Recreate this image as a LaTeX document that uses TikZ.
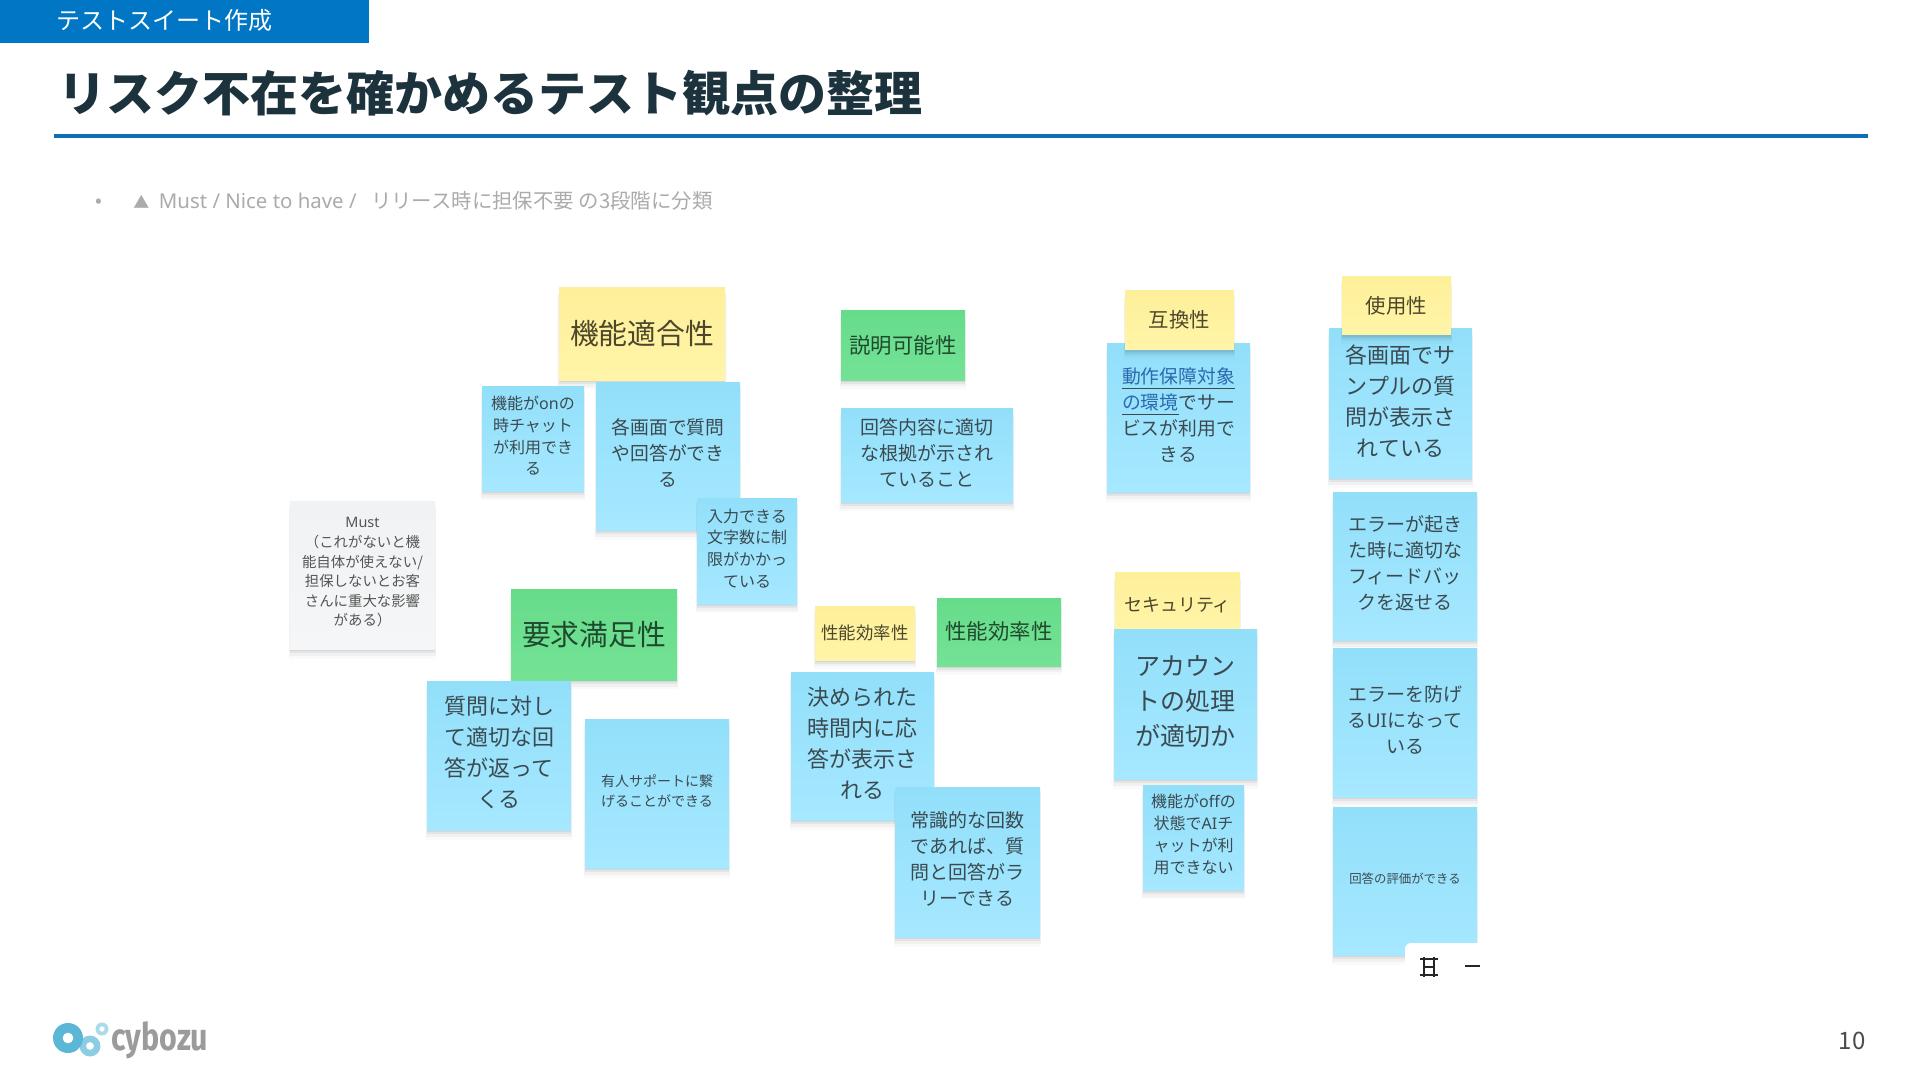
\documentclass[tikz,border=0pt]{standalone}
\usepackage{fontspec}
\setmainfont{Noto Sans CJK JP}
\newfontfamily\logofont{Fira Sans}
\newfontfamily\latf{Noto Sans}
\usetikzlibrary{shadows}
\definecolor{hdrblue}{HTML}{0176C5}
\definecolor{rulec}{HTML}{0F6FB6}
\definecolor{titlec}{HTML}{1C333D}
\definecolor{subc}{HTML}{ABABAB}
\definecolor{inkc}{HTML}{3A4A50}
\definecolor{bluetop}{HTML}{92DFFA}
\definecolor{bluebot}{HTML}{A6E8FF}
\definecolor{yeltop}{HTML}{FEF09A}
\definecolor{yelbot}{HTML}{FFF4A8}
\definecolor{yeltxt}{HTML}{4C472A}
\definecolor{grntop}{HTML}{66DC8A}
\definecolor{grnbot}{HTML}{74E296}
\definecolor{grntxt}{HTML}{1F4A2E}
\definecolor{grytop}{HTML}{F1F2F4}
\definecolor{grybot}{HTML}{F5F6F7}
\definecolor{grytxt}{HTML}{555555}
\definecolor{linkc}{HTML}{2A6AAE}
\definecolor{logoa}{HTML}{5CB6D6}
\definecolor{logob}{HTML}{8CCDE2}
\definecolor{logoc}{HTML}{A9DBEA}
\definecolor{logot}{HTML}{9B9B9B}
\tikzset{
  softshadow/.style={
    general shadow={shadow xshift=0pt,shadow yshift=-4pt,shadow scale=1.02,fill=black,fill opacity=.02},
    general shadow={shadow xshift=0pt,shadow yshift=-3pt,shadow scale=1.012,fill=black,fill opacity=.035},
    general shadow={shadow xshift=0pt,shadow yshift=-1.8pt,shadow scale=1.005,fill=black,fill opacity=.05},
    general shadow={shadow xshift=0pt,shadow yshift=-1pt,fill=black,fill opacity=.06}},
  noteblue/.style={top color=bluetop,bottom color=bluebot},
  noteyel/.style={top color=yeltop,bottom color=yelbot},
  notegrn/.style={top color=grntop,bottom color=grnbot},
  notegry/.style={top color=grytop,bottom color=grybot},
  notebase/.style={rectangle,inner sep=0pt,softshadow},
  notelabel/.style={inner sep=0pt,align=center,yshift=1.3pt},
  txtink/.style={text=inkc},
  txtgry/.style={text=grytxt},
  txtyel/.style={text=yeltxt,yshift=-1.1pt},
  txtgrn/.style={text=grntxt,yshift=-1.1pt},
  txtsec/.style={text=yeltxt,yshift=-2.4pt}
}
% name, x0,y0,x1,y1 (px), style, text style, size(pt)/leading(pt), text
\newcommand{\sticky}[9]{%
  \pgfmathsetmacro{\cxv}{(#2+#4)/2}\pgfmathsetmacro{\cyv}{(#3+#5)/2}%
  \pgfmathsetmacro{\wv}{(#4-#2)*0.5}\pgfmathsetmacro{\hv}{(#5-#3)*0.5}%
  \node[notebase,#6,minimum width=\wv pt,minimum height=\hv pt] (#1) at (\cxv,\cyv) {};
  \node[notelabel,#7,font=#8\selectfont] (#1-text) at (#1.center) {#9};}
\begin{document}
\begin{tikzpicture}[x=0.5pt,y=-0.5pt]
\useasboundingbox[fill=white] (0,0) rectangle (1920,1080);
% header
\fill[hdrblue] (0,0) rectangle (369,43);
\node[anchor=west,inner sep=0pt,text=white,font=\fontsize{12}{14}\selectfont] (hdr) at (56,20) {テストスイート作成};
\node[anchor=west,inner sep=0pt,text=titlec,font=\fontsize{24}{28}\bfseries\selectfont] (title) at (58,93.5) {リスク不在を確かめるテスト観点の整理};
\fill[rulec] (54,134) rectangle (1868,138);
\node[anchor=center,inner sep=0pt,text=subc,font=\fontsize{10}{12}\selectfont] (bullet) at (99,203) {•};
\node[anchor=west,inner sep=0pt,text=subc,font=\fontsize{10.2}{12}\selectfont] (sub) at (133,201) {{\fontsize{8}{12}\selectfont ▲}\hspace{2.5pt} {\latf Must / Nice to have /}\hspace{5pt} リリース時に担保不要 の3段階に分類};
% stickies
\sticky{kino}{559}{288}{725}{380}{noteyel}{txtyel}{\fontsize{14.4}{17}}{機能適合性}
\sticky{on}{482}{386}{584}{491}{noteblue}{txtink}{\fontsize{8}{10.8}}{機能が{\latf on}の\\時チャット\\が利用でき\\る}
\sticky{gamen}{596}{382}{740}{530}{noteblue}{txtink}{\fontsize{9.4}{13}}{各画面で質問\\や回答ができ\\る}
\sticky{nyu}{697}{498}{797}{604}{noteblue}{txtink}{\fontsize{8}{10.8}}{入力できる\\文字数に制\\限がかかっ\\ている}
\sticky{must}{290}{501}{435}{649}{notegry}{txtgry}{\fontsize{7.2}{9.8}}{{\latf Must}\\（これがないと機\\能自体が使えない/\\担保しないとお客\\さんに重大な影響\\がある）}
\sticky{yokyu}{511}{589}{677}{680}{notegrn}{txtgrn}{\fontsize{14.4}{17}}{要求満足性}
\sticky{shitsu}{427}{681}{571}{830}{noteblue}{txtink}{\fontsize{11}{15.5}}{質問に対し\\て適切な回\\答が返って\\くる}
\sticky{yujin}{585}{719}{729}{868}{noteblue}{txtink}{\fontsize{7}{9.8}}{有人サポートに繋\\げることができる}
\sticky{setsu}{841}{311}{965}{380}{notegrn}{txtgrn}{\fontsize{10.7}{13}}{説明可能性}
\sticky{kaito}{841}{408}{1013}{502}{noteblue}{txtink}{\fontsize{9.5}{13}}{回答内容に適切\\な根拠が示され\\ていること}
\sticky{seiy}{815}{606}{915}{660}{noteyel}{txtyel}{\fontsize{8.7}{11}}{性能効率性}
\sticky{seig}{937}{598}{1061}{666}{notegrn}{txtgrn}{\fontsize{10.7}{13}}{性能効率性}
\sticky{kime}{791}{672}{934}{820}{noteblue}{txtink}{\fontsize{11}{15.5}}{決められた\\時間内に応\\答が表示さ\\れる}
\sticky{joshiki}{895}{787}{1040}{937}{noteblue}{txtink}{\fontsize{9.5}{13}}{常識的な回数\\であれば、質\\問と回答がラ\\リーできる}
\sticky{dosa}{1107}{344}{1250}{492}{noteblue}{txtink}{\fontsize{9.4}{13}}{\underline{\textcolor{linkc}{動作保障対象}}\\\underline{\textcolor{linkc}{の環境}}でサー\\ビスが利用で\\きる}
\sticky{gokan}{1125}{291}{1234}{350}{noteyel}{txtyel}{\fontsize{10.2}{12}}{互換性}
\sticky{secu}{1115}{572}{1240}{633}{noteyel}{txtsec}{\fontsize{9}{11}}{セキュリティ}
\sticky{acct}{1114}{629}{1257}{779}{noteblue}{txtink}{\fontsize{12.5}{17.6}}{アカウン\\トの処理\\が適切か}
\sticky{off}{1143}{785}{1244}{890}{noteblue}{txtink}{\fontsize{8}{11}}{機能が{\latf off}の\\状態で{\latf AI}チ\\ャットが利\\用できない}
\sticky{samp}{1329}{329}{1472}{478}{noteblue}{txtink}{\fontsize{11}{15.5}}{各画面でサ\\ンプルの質\\問が表示さ\\れている}
\sticky{shiyo}{1342}{277}{1451}{335}{noteyel}{txtyel}{\fontsize{10.2}{12}}{使用性}
\sticky{err}{1333}{492}{1477}{640}{noteblue}{txtink}{\fontsize{9.5}{13}}{エラーが起き\\た時に適切な\\フィードバッ\\クを返せる}
\sticky{bosei}{1333}{648}{1477}{797}{noteblue}{txtink}{\fontsize{9.5}{13}}{エラーを防げ\\る{\latf UI}になって\\いる}
\sticky{hyoka}{1333}{807}{1477}{955}{noteblue}{txtink}{\fontsize{6.2}{8}}{回答の評価ができる}
% toolbar corner
\fill[white,rounded corners=3pt] (1405,943) -- (1495,943) -- (1495,990) -- (1405,990) -- cycle;
\fill[white] (1405,955) rectangle (1495,990);
\draw[black!85,line width=1pt] (1420,959) -- (1438,959) (1420,975) -- (1438,975) (1424,957) -- (1424,977) (1434,957) -- (1434,977) (1424,967) -- (1434,967);
\draw[black!85,line width=0.9pt] (1465,966) -- (1480,966);
% logo
\fill[logob,even odd rule] (90,1046) circle (10.5) (90,1046) circle (4);
\fill[logoa,even odd rule] (68,1038) circle (15) (68,1038) circle (5.5);
\fill[logoc,even odd rule] (102,1029) circle (6.5) (102,1029) circle (2.8);
\node[anchor=west,inner sep=0pt,text=logot,xscale=.8,font=\fontsize{19}{22}\logofont\bfseries\selectfont] (logo) at (111,1040.5) {cybozu};
% page number
\node[anchor=east,inner sep=0pt,text=black!70,font=\fontsize{12}{14}\selectfont] (page) at (1866,1041) {10};
\end{tikzpicture}
\end{document}
